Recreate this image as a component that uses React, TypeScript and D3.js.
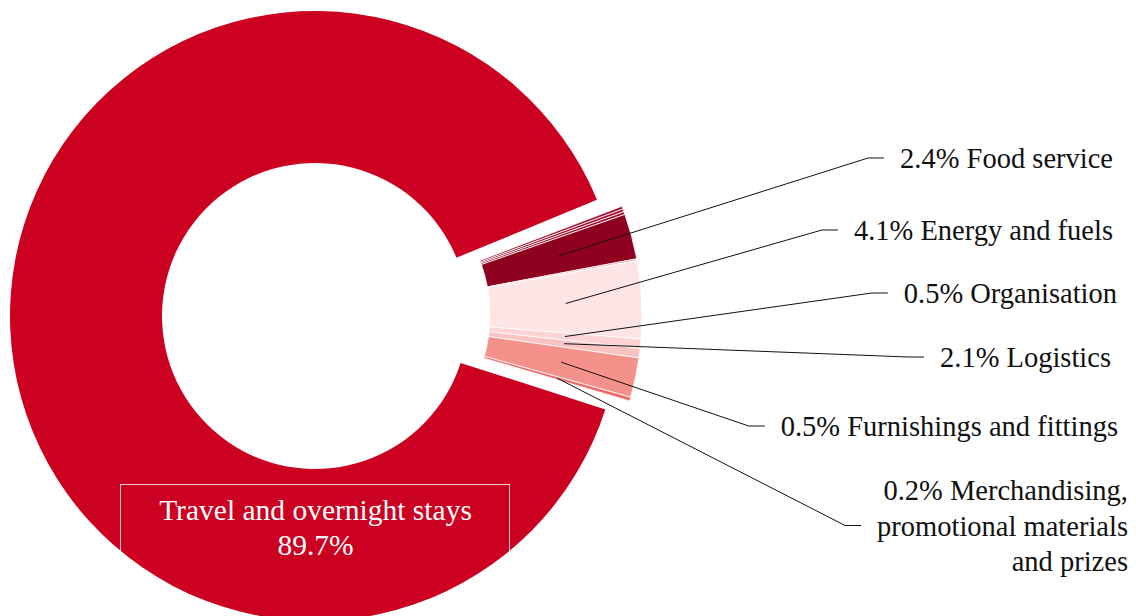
import React, { useEffect, useRef } from "react";
import * as d3 from "d3";

// ---- data ----
const sliceNames = [
  "Travel and overnight stays",
  "Other (a)",
  "Other (b)",
  "Other (c)",
  "Food service",
  "Other (d)",
  "Energy and fuels",
  "Organisation",
  "Furnishings and fittings",
  "Logistics",
  "Merchandising, promotional materials and prizes",
];
const sliceValues = [89.7, 0.15, 0.15, 0.15, 2.4, 0.1, 4.1, 0.5, 0.5, 2.1, 0.2];
const sliceColors = [
  "#cc0020",
  "#a0102e",
  "#a0102e",
  "#a0102e",
  "#8e001e",
  "#e6a6b0",
  "#fde5e5",
  "#fdd4d4",
  "#fbc2c2",
  "#f4918b",
  "#ee6a6a",
];

const labelLines = [
  ["2.4% Food service"],
  ["4.1% Energy and fuels"],
  ["0.5% Organisation"],
  ["2.1% Logistics"],
  ["0.5% Furnishings and fittings"],
  ["0.2% Merchandising,", "promotional materials", "and prizes"],
];
const labelTargets = [4, 6, 7, 8, 9, 10];
const labelLeaderRow = [0, 0, 0, 0, 0, 1];

const centerTitle = "Travel and overnight stays";
const centerValue = "89.7%";

// ---- layout ----
const W = 1136;
const H = 616;
const CX = 315;
const CY = 316;
const R_OUT = 305;
const R_IN = 153;
const GROUP_START_DEG = 69.1;
const MAIN_PAD_DEG = 1.5;
const EXPLODE = 22;
const labelBaselines = [168, 240, 303, 367, 436, 500];
const labelRightX = [1113, 1113, 1117, 1111, 1118, 1128];
const LINE_STEP = 35.5;
const FONT = "'Liberation Serif', 'Times New Roman', serif";
const LABEL_SIZE = 28.5;

export default function App() {
  const ref = useRef<SVGSVGElement | null>(null);

  useEffect(() => {
    const svg = d3.select(ref.current);
    svg.selectAll("*").remove();

    const total = d3.sum(sliceValues);
    const smallShare = (total - sliceValues[0]) / total;
    const groupStart = (GROUP_START_DEG * Math.PI) / 180;
    const pieStart = groupStart + smallShare * 2 * Math.PI;

    const arcs = d3
      .pie<number>()
      .sort(null)
      .value((d) => d)
      .startAngle(pieStart)
      .endAngle(pieStart + 2 * Math.PI)(sliceValues);

    const arcGen = d3.arc<any>().innerRadius(R_IN).outerRadius(R_OUT);

    const gMain = svg.append("g").attr("transform", `translate(${CX},${CY})`);
    const pad = (MAIN_PAD_DEG * Math.PI) / 180;
    const main = arcs[0];
    gMain
      .append("path")
      .attr("d", arcGen({ ...main, startAngle: main.startAngle + pad, endAngle: main.endAngle - pad }) as string)
      .attr("fill", sliceColors[0]);

    const small = arcs.slice(1);
    const mid = (small[0].startAngle + small[small.length - 1].endAngle) / 2;
    const sx = CX + EXPLODE * Math.sin(mid);
    const sy = CY - EXPLODE * Math.cos(mid);
    const gSmall = svg.append("g").attr("transform", `translate(${sx},${sy})`);
    gSmall
      .selectAll("path")
      .data(small)
      .join("path")
      .attr("d", (d) => arcGen(d) as string)
      .attr("fill", (d) => sliceColors[d.index])
      .attr("stroke", "#ffffff")
      .attr("stroke-width", 0.8);

    // center label box and text
    svg
      .append("rect")
      .attr("x", CX - 194.5)
      .attr("y", 484.5)
      .attr("width", 389)
      .attr("height", 200)
      .attr("fill", "none")
      .attr("stroke", "rgba(255,255,255,0.8)")
      .attr("stroke-width", 1);
    svg
      .append("text")
      .attr("x", CX + 0.5)
      .attr("y", 520)
      .attr("text-anchor", "middle")
      .attr("fill", "#ffffff")
      .attr("font-family", FONT)
      .attr("font-size", 29.5)
      .text(centerTitle);
    svg
      .append("text")
      .attr("x", CX + 0.5)
      .attr("y", 555)
      .attr("text-anchor", "middle")
      .attr("fill", "#ffffff")
      .attr("font-family", FONT)
      .attr("font-size", 29.5)
      .text(centerValue);

    // outside labels with leader lines
    labelLines.forEach((lines, i) => {
      let leaderStart = 0;
      lines.forEach((ln, j) => {
        const t = svg
          .append("text")
          .attr("x", labelRightX[i])
          .attr("y", labelBaselines[i] + j * LINE_STEP)
          .attr("text-anchor", "end")
          .attr("fill", "#111111")
          .attr("font-family", FONT)
          .attr("font-size", LABEL_SIZE)
          .text(ln);
        if (j === labelLeaderRow[i]) {
          const w = (t.node() as SVGTextElement).getComputedTextLength();
          leaderStart = labelRightX[i] - w;
        }
      });
      const [ax, ay] = arcGen.centroid(arcs[labelTargets[i]]);
      const yLine = labelBaselines[i] + labelLeaderRow[i] * LINE_STEP - 10;
      const pts: [number, number][] = [
        [ax + sx, ay + sy],
        [leaderStart - 32, yLine],
        [leaderStart - 16, yLine],
      ];
      svg
        .append("path")
        .attr("d", d3.line()(pts) as string)
        .attr("fill", "none")
        .attr("stroke", "#111111")
        .attr("stroke-width", 1);
    });
  }, []);

  return (
    <svg
      ref={ref}
      width={W}
      height={H}
      style={{ position: "absolute", left: 0, top: 0, background: "#ffffff" }}
    />
  );
}
